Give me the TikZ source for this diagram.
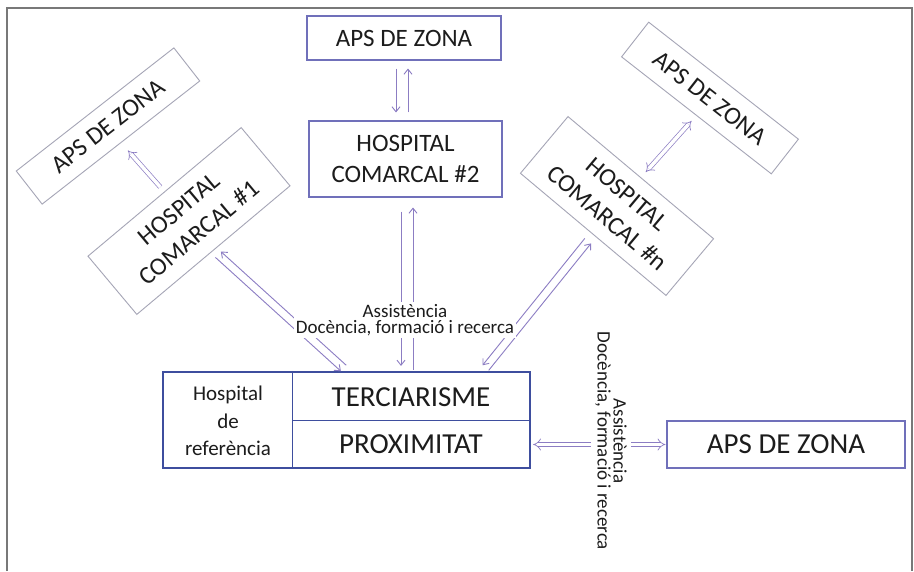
\documentclass[tikz,border=0pt]{standalone}
\usepackage{fontspec}
\setmainfont{Carlito}
\usetikzlibrary{arrows.meta,calc}
\definecolor{boxblue}{RGB}{112,112,186}
\definecolor{mainblue}{RGB}{62,78,158}
\definecolor{rotgray}{RGB}{165,165,182}
\definecolor{arrowlav}{RGB}{140,125,195}
\definecolor{txt}{RGB}{28,28,28}
\definecolor{framegray}{RGB}{120,120,120}
\begin{document}
\begin{tikzpicture}[x=1pt,y=-1pt,
  flatbox/.style={draw=boxblue,line width=1.1pt,text=txt,align=center,inner sep=0pt},
  rotbox/.style={draw=rotgray,line width=0.9pt,text=txt,align=center,inner sep=0pt},
  bigtxt/.style={font=\fontsize{25}{31}\selectfont},
  hugetxt/.style={font=\fontsize{29}{32}\selectfont},
  pairline/.style={draw=arrowlav,line width=0.9pt,-{Straight Barb[length=5pt,width=8pt]}},
  dblarrow/.style={draw=arrowlav,line width=0.7pt,double=white,double distance=3.5pt},
  lbl/.style={fill=white,text=txt,align=center,inner sep=2pt,font=\fontsize{19}{16}\selectfont}
]
\useasboundingbox (0,0) rectangle (914,571);
\fill[white] (0,0) rectangle (914,571);
\draw[framegray,line width=1.8pt] (7,571) -- (7,8) -- (912,8) -- (912,571);

% nodes
\node[flatbox,bigtxt,minimum width=194pt,minimum height=44pt] (aps2) at (404,38) {APS DE ZONA};
\node[flatbox,bigtxt,minimum width=193pt,minimum height=76pt] (h2) at (405.5,159) {HOSPITAL\\COMARCAL \#2};
\node[rotbox,bigtxt,rotate=38,minimum width=200pt,minimum height=42pt] (aps1) at (108,126) {APS DE ZONA};
\node[rotbox,bigtxt,rotate=40,minimum width=200pt,minimum height=76pt] (h1) at (189,221) {HOSPITAL\\COMARCAL \#1};
\node[rotbox,bigtxt,rotate=-40,minimum width=190pt,minimum height=74pt] (hn) at (617,206) {HOSPITAL\\COMARCAL \#n};
\node[rotbox,bigtxt,rotate=-38,minimum width=190pt,minimum height=44pt] (apsR) at (710,98) {APS DE ZONA};

\node[draw=mainblue,line width=2.2pt,minimum width=367pt,minimum height=96pt,inner sep=0pt] (main) at (346.5,420) {};
\coordinate (vd) at (292,420);
\draw[mainblue,line width=0.9pt] (vd |- main.north) -- (vd |- main.south);
\draw[mainblue,line width=0.9pt] (vd) -- (main.east);
\node[text=txt,align=center,font=\fontsize{21}{27.5}\selectfont] (hr) at (228,421) {Hospital\\de\\referència};
\node[text=txt,hugetxt] (terc) at (411,397) {TERCIARISME};
\node[text=txt,hugetxt] (prox) at (411,444) {PROXIMITAT};

\node[flatbox,hugetxt,minimum width=238pt,minimum height=47pt] (apsZ) at (786,444.5) {APS DE ZONA};

% arrows: top
\draw[pairline,shorten <=8pt,shorten >=8pt] ([xshift=-8pt]aps2.south) -- ([xshift=-8pt]aps2.south |- h2.north);
\draw[pairline,shorten <=8pt,shorten >=8pt] ([xshift=4pt]aps2.south |- h2.north) -- ([xshift=4pt]aps2.south);
% center vertical
\draw[pairline,shorten <=14pt,shorten >=5pt] ([xshift=-4.5pt]h2.south) -- ([xshift=-4.5pt]h2.south |- main.north);
\draw[pairline,shorten <=1pt,shorten >=10pt] ([xshift=7.5pt]h2.south |- main.north) -- ([xshift=7.5pt]h2.south);
% left diagonal
\draw[pairline,shorten <=4pt,shorten >=6pt] ($(main.north)!4pt!-90:(h1.south)$) -- ($(h1.south)!4pt!90:(main.north)$);
\draw[pairline,shorten <=6pt,shorten >=4pt] ($(h1.south)!4pt!-90:(main.north)$) -- ($(main.north)!4pt!90:(h1.south)$);
% right diagonal
\coordinate (mR) at ($(main.north)!0.74!(main.north east)$);
\draw[pairline,shorten <=4pt,shorten >=8pt] ($(mR)!4pt!-90:(hn.south)$) -- ($(hn.south)!4pt!90:(mR)$);
\draw[pairline,shorten <=8pt,shorten >=4pt] ($(hn.south)!4pt!-90:(mR)$) -- ($(mR)!4pt!90:(hn.south)$);
% small rotated connectors
\draw[dblarrow,-Implies,shorten <=6pt,shorten >=10pt] (h1.north) -- (aps1.south);
\draw[dblarrow,Implies-Implies,shorten <=7pt,shorten >=7pt] (hn.north) -- (apsR.south);
% right horizontal
\draw[dblarrow,Implies-Implies,shorten <=2pt,shorten >=1pt] (apsZ.west -| main.east) -- (apsZ.west);

% labels
\node[lbl] (lab) at (405,320) {Assistència\\Docència, formació i recerca};
\node[lbl,rotate=-90,inner sep=4pt] (labR) at (611,441) {Assistència\\Docència, formació i recerca};
\end{tikzpicture}
\end{document}
